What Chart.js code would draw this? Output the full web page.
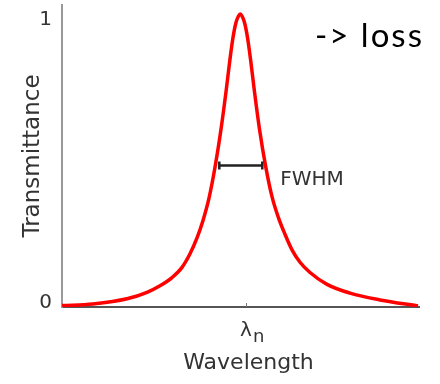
<!DOCTYPE html>
<html>
<head>
<meta charset="utf-8">
<script src="https://cdn.jsdelivr.net/npm/chart.js@4/dist/chart.umd.min.js"></script>
<style>
  html, body { margin: 0; padding: 0; background: #fff; }
</style>
</head>
<body>
<canvas id="resonanceChart" width="440" height="384"></canvas>
<script>
// wavelength position (arbitrary units, left end of axis = 0)
const wavelength = [0, 31, 65, 85, 98, 110, 120, 128, 135, 141, 147, 153, 159, 164, 168, 171, 174, 176.5, 178.3,
  180, 182.5, 185.5, 188.5, 192.5, 197.5, 203.7, 210, 216.5, 223, 230, 238, 248, 265, 288, 318, 356];
// transmittance
const transmittance = [0.005, 0.011, 0.029, 0.052, 0.075, 0.104, 0.140, 0.188, 0.244, 0.306, 0.385, 0.494, 0.628, 0.760, 0.876, 0.952, 1.005, 1.028, 1.035,
  1.028, 1.005, 0.952, 0.876, 0.760, 0.628, 0.496, 0.390, 0.315, 0.257, 0.202, 0.158, 0.122, 0.080, 0.049, 0.025, 0.004];
const yTicks = [0, 1];
const resonance = 184;          // where the lambda_n tick sits
const fwhm = [157.3, 200.3];    // ends of the FWHM bar
const halfMax = 0.5;

const points = wavelength.map((w, i) => ({ x: w, y: transmittance[i] }));

const FONT = 'DejaVu Sans';

// bits drawn on top: tick mark, subscript, x title, FWHM bar and notes
const notes = {
  id: 'notes',
  afterDraw(chart) {
    const { ctx, scales: { x, y }, chartArea } = chart;
    ctx.save();
    const px = x.getPixelForValue(resonance);
    // small tick at lambda_n, pointing into the plot
    const tx = Math.round(px) + 0.5;
    ctx.strokeStyle = '#777';
    ctx.lineWidth = 1;
    ctx.beginPath();
    ctx.moveTo(tx, chartArea.bottom - 4);
    ctx.lineTo(tx, chartArea.bottom);
    ctx.stroke();

    // subscript n after the lambda tick label
    ctx.fillStyle = '#333';
    ctx.font = '20px "' + FONT + '"';
    const lw = ctx.measureText('λ').width;
    ctx.font = '18px "' + FONT + '"';
    ctx.textAlign = 'left';
    ctx.textBaseline = 'alphabetic';
    ctx.fillText('n', px + lw / 2 + 1, chartArea.bottom + 35);

    // axis title, centred under the tick
    ctx.font = '22px "' + FONT + '"';
    ctx.textAlign = 'center';
    ctx.fillText('Wavelength', px + 2.5, chartArea.bottom + 62);

    // FWHM bar
    const x1 = x.getPixelForValue(fwhm[0]);
    const x2 = x.getPixelForValue(fwhm[1]);
    const yy = y.getPixelForValue(halfMax);
    ctx.strokeStyle = '#222';
    ctx.lineWidth = 2.5;
    ctx.beginPath();
    ctx.moveTo(x1, yy); ctx.lineTo(x2, yy);
    ctx.moveTo(x1, yy - 4); ctx.lineTo(x1, yy + 4);
    ctx.moveTo(x2, yy - 4); ctx.lineTo(x2, yy + 4);
    ctx.stroke();

    ctx.font = '20px "' + FONT + '"';
    ctx.textAlign = 'left';
    ctx.textBaseline = 'middle';
    ctx.fillText('FWHM', x2 + 18, yy + 14);

    ctx.fillStyle = '#000';
    ctx.font = '33px Lato';
    ctx.textBaseline = 'alphabetic';
    ctx.letterSpacing = '2px';
    ctx.fillText('-> loss', 315, 47);
    ctx.restore();
  }
};

new Chart(document.getElementById('resonanceChart'), {
  type: 'line',
  data: {
    datasets: [{
      data: points,
      borderColor: '#ff0000',
      borderWidth: 3.5,
      pointRadius: 0,
      fill: false,
      cubicInterpolationMode: 'monotone'
    }]
  },
  options: {
    responsive: false,
    animation: false,
    layout: { padding: { top: 5, right: 21, left: 0, bottom: 0 } },
    plugins: { legend: { display: false }, tooltip: { enabled: false } },
    scales: {
      x: {
        type: 'linear',
        min: 0,
        max: 357,
        afterBuildTicks: axis => { axis.ticks = [{ value: resonance }]; },
        afterFit: axis => { axis.height = 77; axis.paddingLeft = 0; axis.paddingRight = 0; },
        ticks: {
          padding: 12,
          maxRotation: 0,
          color: '#333',
          font: { family: FONT, size: 20 },
          callback: () => 'λ'
        },
        grid: { display: false, drawTicks: false },
        border: { display: true, color: '#555', width: 2 }
      },
      y: {
        min: 0,
        max: 1.067,
        afterBuildTicks: axis => { axis.ticks = yTicks.map(v => ({ value: v })); },
        afterFit: axis => { axis.width = 62; axis.paddingTop = 0; axis.paddingBottom = 0; },
        ticks: {
          padding: 10,
          labelOffset: -4,
          color: '#333',
          font: { family: FONT, size: 20 },
          callback: v => String(v)
        },
        grid: { display: false, drawTicks: false },
        border: { display: true, color: '#999', width: 2 },
        title: {
          display: true,
          text: 'Transmittance',
          color: '#333',
          font: { family: FONT, size: 23 },
          padding: { top: 19, bottom: 0 }
        }
      }
    }
  },
  plugins: [notes]
});
</script>
</body>
</html>
